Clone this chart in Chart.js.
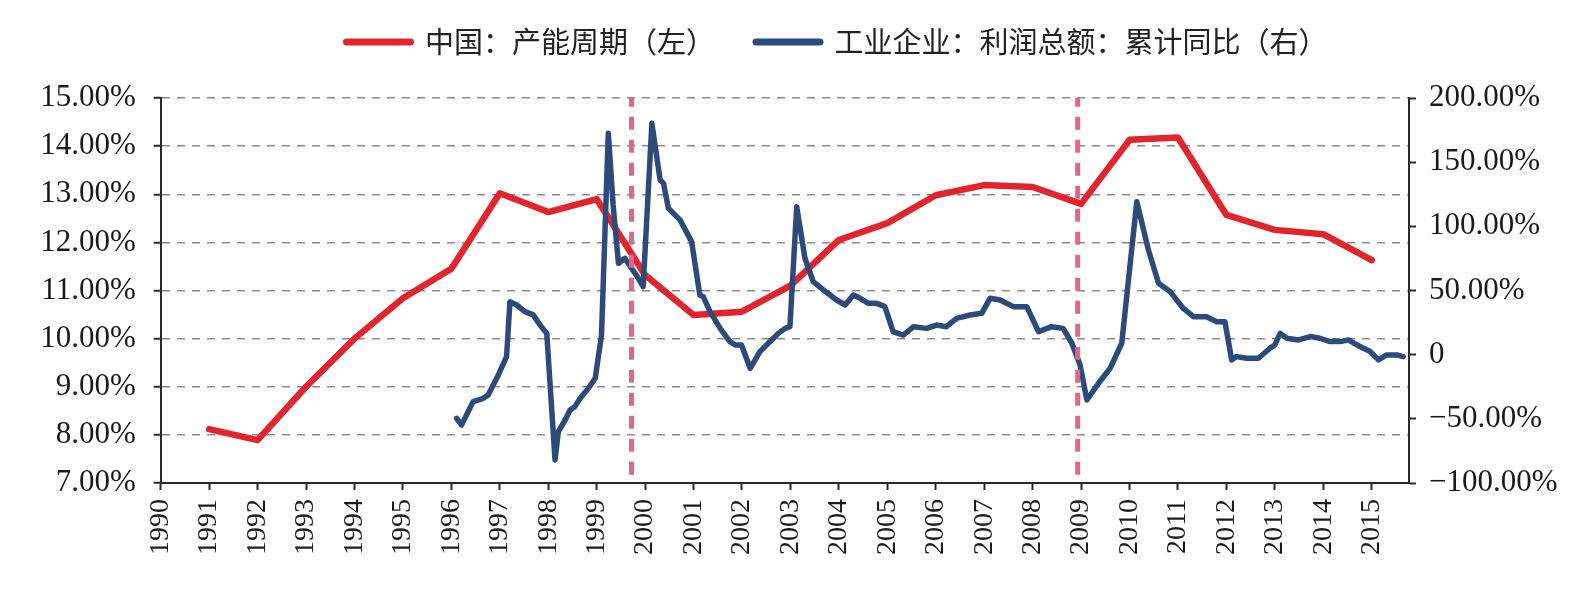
<!DOCTYPE html>
<html>
<head>
<meta charset="utf-8">
<script src="https://cdn.jsdelivr.net/npm/chart.js@4/dist/chart.umd.min.js"></script>
<style>
    body { margin: 0; background: #fff; }
    #box { width: 1586px; height: 596px; }
</style>
</head>
<body>
<div id="box"><canvas id="myChart"></canvas></div>
<script>
//横轴年份刻度
const yearTicks = [1990, 1991, 1992, 1993, 1994, 1995, 1996, 1997, 1998, 1999, 2000, 2001, 2002,
    2003, 2004, 2005, 2006, 2007, 2008, 2009, 2010, 2011, 2012, 2013, 2014, 2015]
//左轴刻度(%)
const leftTicks = [7, 8, 9, 10, 11, 12, 13, 14, 15]
//右轴刻度(%)
const rightTicks = [-100, -50, 0, 50, 100, 150, 200]

//中国：产能周期（左）
const capYears = [1991, 1992, 1993, 1994, 1995, 1996, 1997, 1998, 1999, 2000, 2001, 2002, 2003,
    2004, 2005, 2006, 2007, 2008, 2009, 2010, 2011, 2012, 2013, 2014, 2015]
const capValues = [8.12, 7.89, 9.0, 10.0, 10.84, 11.45, 13.02, 12.63, 12.9, 11.32, 10.49, 10.56, 11.1,
    12.05, 12.4, 12.98, 13.19, 13.15, 12.8, 14.13, 14.18, 12.57, 12.26, 12.17, 11.63]

//工业企业：利润总额：累计同比（右）
const profitDates = [1996.11, 1996.21, 1996.45, 1996.66, 1996.76, 1996.97,
    1997.14, 1997.21, 1997.35, 1997.52, 1997.69, 1997.83, 1997.97,
    1998.14, 1998.21, 1998.35, 1998.45, 1998.55, 1998.66, 1998.83, 1998.97,
    1999.10, 1999.24, 1999.34, 1999.45, 1999.58, 1999.72, 1999.86, 1999.96,
    2000.14, 2000.31, 2000.38, 2000.48, 2000.72, 2000.96,
    2001.13, 2001.20, 2001.34, 2001.55, 2001.75, 2001.86, 2001.99,
    2002.17, 2002.37, 2002.58, 2002.75, 2002.89, 2002.99,
    2003.13, 2003.30, 2003.47, 2003.68, 2003.82, 2003.95,
    2004.13, 2004.30, 2004.44, 2004.61, 2004.78, 2004.95,
    2005.12, 2005.33, 2005.54, 2005.81, 2006.02,
    2006.22, 2006.43, 2006.71, 2006.95,
    2007.12, 2007.33, 2007.60, 2007.88,
    2008.12, 2008.39, 2008.63, 2008.81, 2008.98,
    2009.12, 2009.36, 2009.60, 2009.84,
    2010.15, 2010.39, 2010.60, 2010.84,
    2011.11, 2011.32, 2011.59, 2011.80, 2011.97,
    2012.11, 2012.21, 2012.42, 2012.66, 2012.90, 2013.00,
    2013.11, 2013.25, 2013.49, 2013.73, 2013.93,
    2014.14, 2014.35, 2014.52, 2014.76, 2014.97,
    2015.14, 2015.31, 2015.52, 2015.65]
const profitValues = [-49.6, -54.8, -36.6, -34.0, -31.4, -15.8,
    -1.5, 41.3, 38.7, 33.5, 31.0, 23.1, 16.6,
    -82.0, -59.9, -50.9, -43.1, -40.5, -34.0, -26.2, -18.4,
    15.3, 172.5, 116.6, 71.2, 75.1, 67.3, 59.5, 53.0,
    180.3, 136.1, 133.5, 114.1, 105.0, 88.1,
    46.5, 45.2, 33.5, 20.5, 10.2, 7.6, 7.6,
    -10.6, 2.4, 10.2, 16.6, 20.5, 21.8,
    115.3, 75.1, 56.9, 50.4, 46.5, 42.6,
    38.7, 46.5, 43.9, 40.0, 40.0, 37.4,
    17.9, 15.3, 21.8, 20.5, 23.1,
    21.8, 28.3, 30.9, 32.2,
    43.9, 42.6, 37.4, 37.4,
    17.9, 21.8, 20.5, 8.9, -8.0,
    -35.3, -22.3, -10.6, 8.9,
    119.2, 81.6, 55.6, 49.1,
    36.0, 29.6, 29.6, 25.7, 25.7,
    -4.1, -1.5, -2.8, -2.8, 5.0, 7.6,
    16.6, 12.8, 11.5, 14.1, 12.8,
    10.2, 10.2, 11.5, 6.3, 2.4,
    -4.1, -0.2, -0.2, -1.5]

//两条竖直虚线（左轴上下端）
const markDates = [1999.72, 2008.93]
const markRange = [7.17, 15]

const RED = '#E1242D'
const BLUE = '#2D4B7A'
const PINK = '#E2668A'
const AXIS = '#2a2a2a'
const SERIF = "'Liberation Serif', 'Times New Roman', serif"

function pairs(xs, ys) {
    return xs.map((x, i) => ({ x: x, y: ys[i] }))
}

function pct(v) {
    //右轴：0 不带小数，负号用长横
    if (v == 0) return '0'
    return (v < 0 ? '\u2212' : '') + Math.abs(v).toFixed(2) + '%'
}

let datasets = [{
    label: '中国：产能周期（左）',
    data: pairs(capYears, capValues),
    yAxisID: 'y',
    borderColor: RED,
    borderWidth: 6.5,
    order: 2
}, {
    label: '工业企业：利润总额：累计同比（右）',
    data: pairs(profitDates, profitValues),
    yAxisID: 'y1',
    borderColor: BLUE,
    borderWidth: 5.5,
    order: 1
}]

markDates.forEach(d => {
    datasets.push({
        label: 'mark',
        data: markRange.map(v => ({ x: d, y: v })),
        yAxisID: 'y',
        borderColor: PINK,
        borderWidth: 5,
        borderDash: [13, 10],
        borderCapStyle: 'butt',
        order: 0
    })
})

datasets.forEach(ds => {
    ds.pointRadius = 0
    ds.tension = 0
    ds.fill = false
    ds.backgroundColor = ds.borderColor
    if (!ds.borderDash) {
        ds.borderJoinStyle = 'round'
        ds.borderCapStyle = 'round'
    }
})

//图例下方留白，让绘图区从 y=98 开始
const legendGap = {
    id: 'legendGap',
    beforeInit(chart) {
        const fit = chart.legend.fit
        chart.legend.fit = function () {
            fit.bind(chart.legend)()
            this.height += 31.5
        }
    }
}

const ctx = document.getElementById('myChart').getContext('2d')
const myChart = new Chart(ctx, {
    type: 'line',
    data: { datasets: datasets },
    plugins: [legendGap],
    options: {
        responsive: true,
        maintainAspectRatio: false,
        animation: false,
        layout: { padding: { top: -13.5, left: 0, right: -88, bottom: 0 } },
        plugins: {
            tooltip: { enabled: false },
            legend: {
                position: 'top',
                labels: {
                    usePointStyle: true,
                    pointStyleWidth: 64,
                    padding: 41,
                    color: '#222',
                    font: { family: "'Noto Sans CJK SC', sans-serif", size: 29 },
                    generateLabels: chart => chart.data.datasets.slice(0, 2).map((ds, i) => ({
                        text: ds.label,
                        fillStyle: ds.borderColor,
                        strokeStyle: ds.borderColor,
                        lineWidth: 7,
                        lineCap: 'round',
                        pointStyle: 'line',
                        fontColor: '#222',
                        hidden: false,
                        datasetIndex: i
                    }))
                }
            }
        },
        scales: {
            x: {
                type: 'linear',
                min: 1990,
                max: 2015.77,
                afterBuildTicks: s => { s.ticks = yearTicks.map(v => ({ value: v })) },
                afterFit: s => { s.height = 113 },
                grid: { drawOnChartArea: false, drawTicks: true, tickLength: 7, tickColor: AXIS, tickWidth: 2 },
                border: { display: true, color: AXIS, width: 2 },
                ticks: {
                    autoSkip: false,
                    minRotation: 90,
                    maxRotation: 90,
                    padding: 9,
                    color: '#1a1a1a',
                    font: { family: SERIF, size: 28 },
                    callback: v => String(v)
                }
            },
            y: {
                position: 'left',
                min: 7,
                max: 15,
                afterBuildTicks: s => { s.ticks = leftTicks.map(v => ({ value: v })) },
                afterFit: s => { s.width = 160.7 },
                grid: { color: '#8a8a8a', lineWidth: 1.5, drawTicks: true, tickLength: 7, tickColor: AXIS, tickWidth: 2 },
                border: { display: true, color: AXIS, width: 2, dash: [8, 7] },
                ticks: {
                    padding: 18,
                    color: '#1a1a1a',
                    font: { family: SERIF, size: 31 },
                    callback: v => v.toFixed(2) + '%'
                }
            },
            y1: {
                position: 'right',
                min: -100,
                max: 200,
                afterBuildTicks: s => { s.ticks = rightTicks.map(v => ({ value: v })) },
                afterFit: s => { s.width = 265 },
                grid: { drawOnChartArea: false, drawTicks: true, tickLength: 7, tickColor: AXIS, tickWidth: 2 },
                border: { display: true, color: AXIS, width: 2 },
                ticks: {
                    padding: 13,
                    color: '#1a1a1a',
                    font: { family: SERIF, size: 31 },
                    callback: v => pct(v)
                }
            }
        }
    }
})
</script>
</body>
</html>
